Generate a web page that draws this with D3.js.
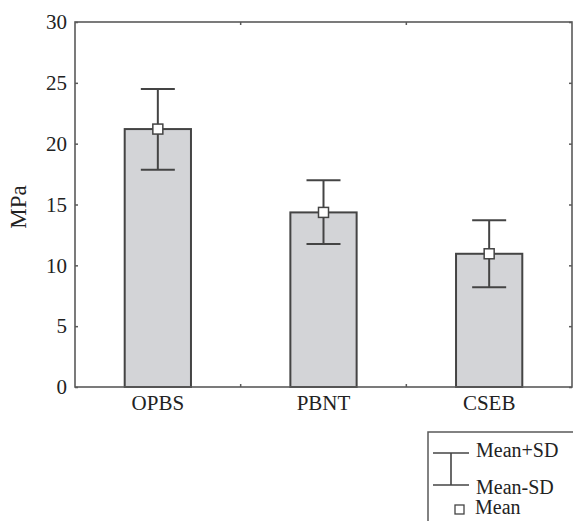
<!DOCTYPE html>
<html>
<head>
<meta charset="utf-8">
<script src="https://cdn.jsdelivr.net/npm/d3@7"></script>
<style>
  body { margin: 0; background: #fff; }
  text { font-family: "Liberation Serif", "Times New Roman", serif; fill: #222; }
</style>
</head>
<body>
<div id="chart"></div>
<script>
// data
var categories = ["OPBS", "PBNT", "CSEB"];
var means = [21.2, 14.35, 10.95];
var upper = [24.5, 17.0, 13.7];   // Mean+SD
var lower = [17.85, 11.75, 8.2];  // Mean-SD
var yTicks = [0, 5, 10, 15, 20, 25, 30];
var legendLabels = ["Mean+SD", "Mean-SD", "Mean"];

var w = 573, h = 521;
var margin = {top: 22, right: 1, bottom: 134, left: 75};
var width = w - margin.left - margin.right,
    height = h - margin.top - margin.bottom;

var frameColor = "#5a5a5a",
    barColor = "#d3d4d7",
    barStroke = "#444";

var svg = d3.select("#chart").append("svg")
    .attr("width", w)
    .attr("height", h);

var g = svg.append("g").attr("transform", "translate(" + margin.left + "," + margin.top + ")");

var x = d3.scaleBand()
    .domain(categories)
    .range([0, width])
    .paddingInner(0.6)
    .paddingOuter(0.3);

var y = d3.scaleLinear()
    .domain([0, 30])
    .range([height, 0]);

// bars
g.selectAll(".bar")
  .data(categories)
  .enter().append("rect")
    .attr("x", function(d) { return x(d); })
    .attr("y", function(d, i) { return y(means[i]); })
    .attr("width", x.bandwidth())
    .attr("height", function(d, i) { return y(0) - y(means[i]); })
    .attr("fill", barColor)
    .attr("stroke", barStroke)
    .attr("stroke-width", 2);

// whiskers
var capW = 34;
categories.forEach(function(c, i) {
  var cx = x(c) + x.bandwidth() / 2;
  g.append("line")
    .attr("x1", cx).attr("x2", cx)
    .attr("y1", y(upper[i])).attr("y2", y(lower[i]))
    .attr("stroke", barStroke).attr("stroke-width", 2);
  [upper[i], lower[i]].forEach(function(v) {
    g.append("line")
      .attr("x1", cx - capW / 2).attr("x2", cx + capW / 2)
      .attr("y1", y(v)).attr("y2", y(v))
      .attr("stroke", barStroke).attr("stroke-width", 2);
  });
  g.append("rect")
    .attr("x", cx - 5).attr("y", y(means[i]) - 5)
    .attr("width", 10).attr("height", 10)
    .attr("fill", "#fff")
    .attr("stroke", barStroke).attr("stroke-width", 1.5);
});

// frame
g.append("rect")
  .attr("width", width)
  .attr("height", height)
  .attr("fill", "none")
  .attr("stroke", frameColor)
  .attr("stroke-width", 1.6);

// inner ticks on all sides
g.append("g")
  .call(d3.axisLeft(y).tickValues(yTicks).tickSize(-3).tickPadding(8).tickFormat(d3.format("d")))
  .call(function(a) { a.select(".domain").remove(); })
  .call(function(a) {
    a.selectAll("line").attr("stroke", frameColor).attr("stroke-width", 1.5);
    a.selectAll("text").attr("font-size", 21).attr("fill", "#222")
      .attr("font-family", "Liberation Serif, serif");
  });

g.append("g")
  .attr("transform", "translate(" + width + ",0)")
  .call(d3.axisRight(y).tickValues(yTicks).tickSize(-3).tickFormat(""))
  .call(function(a) { a.select(".domain").remove(); })
  .call(function(a) { a.selectAll("line").attr("stroke", frameColor).attr("stroke-width", 1.5); });

var bounds = categories.slice(0, -1).map(function(c) {
  return x(c) + x.bandwidth() + x.step() * x.paddingInner() / 2;
});
[0, height].forEach(function(yy) {
  g.selectAll(null)
    .data(bounds)
    .enter().append("line")
      .attr("x1", function(d) { return d; }).attr("x2", function(d) { return d; })
      .attr("y1", yy).attr("y2", yy === 0 ? 3 : height - 3)
      .attr("stroke", frameColor).attr("stroke-width", 1.5);
});

// category labels
g.append("g")
  .attr("transform", "translate(0," + height + ")")
  .call(d3.axisBottom(x).tickSize(0).tickPadding(8))
  .call(function(a) { a.select(".domain").remove(); })
  .call(function(a) {
    a.selectAll("text").attr("font-size", 21).attr("fill", "#222")
      .attr("font-family", "Liberation Serif, serif").attr("dy", "0.71em");
  });

// y label
svg.append("text")
  .attr("transform", "translate(26,207) rotate(-90)")
  .attr("text-anchor", "middle")
  .attr("font-size", 23)
  .text("MPa");

// legend
var lg = svg.append("g").attr("transform", "translate(428,432)");
lg.append("rect")
  .attr("width", 160).attr("height", 100)
  .attr("fill", "#fff")
  .attr("stroke", frameColor).attr("stroke-width", 1.5);

var lx1 = 5, lx2 = 41, lmid = 23;
lg.append("line").attr("x1", lx1).attr("x2", lx2).attr("y1", 21).attr("y2", 21)
  .attr("stroke", barStroke).attr("stroke-width", 1.6);
lg.append("line").attr("x1", lmid).attr("x2", lmid).attr("y1", 21).attr("y2", 53)
  .attr("stroke", barStroke).attr("stroke-width", 1.6);
lg.append("line").attr("x1", lx1).attr("x2", lx2).attr("y1", 53).attr("y2", 53)
  .attr("stroke", barStroke).attr("stroke-width", 1.6);
lg.append("rect").attr("x", 27).attr("y", 73).attr("width", 9).attr("height", 9)
  .attr("fill", "#fff").attr("stroke", barStroke).attr("stroke-width", 1.3);

var legendY = [25, 62, 82];
var legendX = [48, 48, 47];
lg.selectAll(".lt")
  .data(legendLabels)
  .enter().append("text")
    .attr("x", function(d, i) { return legendX[i]; })
    .attr("y", function(d, i) { return legendY[i]; })
    .attr("font-size", 20)
    .text(function(d) { return d; });
</script>
</body>
</html>
